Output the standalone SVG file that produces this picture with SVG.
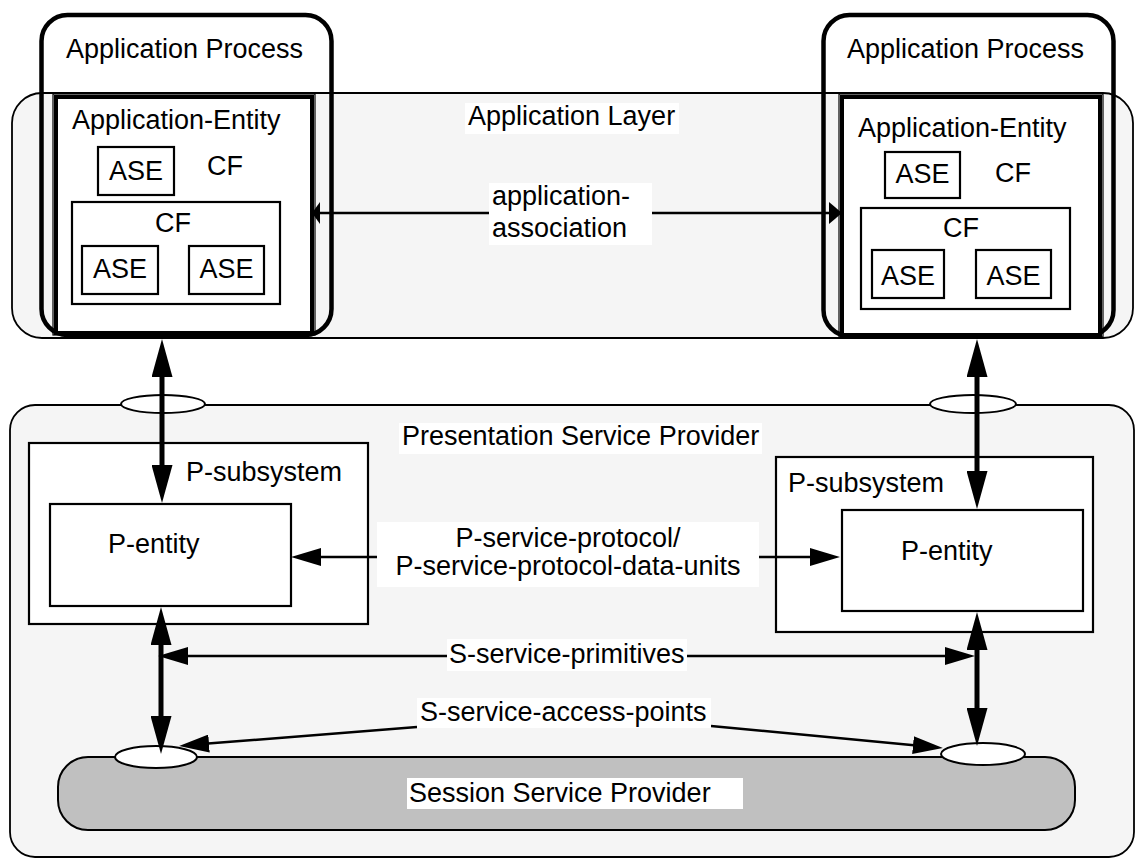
<svg xmlns="http://www.w3.org/2000/svg" width="1136" height="859" viewBox="0 0 1136 859">
<style>
text{font-family:"Liberation Sans",Arial,sans-serif;font-size:27px;fill:#000}
.layer{fill:#f5f5f5;stroke:#000;stroke-width:1.8}
.ap{fill:none;stroke:#000;stroke-width:4.5}
.apbg{fill:#fff;stroke:none}
.ae{fill:#fff;stroke:#000;stroke-width:4}
.aethin{fill:none;stroke:#000;stroke-width:1.2}
.box{fill:#fff;stroke:#000;stroke-width:2.2}
.sap{fill:#fff;stroke:#000;stroke-width:2}
.lbl{fill:#fff;stroke:none}
.thick{stroke:#000;stroke-width:5;fill:none}
.med{stroke:#000;stroke-width:2.5;fill:none}
.mid{text-anchor:middle}
</style>
<defs>
<marker id="hBig" markerUnits="userSpaceOnUse" viewBox="0 0 38 21" markerWidth="38" markerHeight="21" refX="1" refY="10.5" orient="auto-start-reverse"><path d="M0,0 L38,10.5 L0,21 Z" fill="#000"/></marker>
<marker id="hMed" markerUnits="userSpaceOnUse" viewBox="0 0 30 18" markerWidth="30" markerHeight="18" refX="1" refY="9" orient="auto-start-reverse"><path d="M0,0 L30,9 L0,18 Z" fill="#000"/></marker>
<marker id="hSmall" markerUnits="userSpaceOnUse" viewBox="0 0 13 22" markerWidth="13" markerHeight="22" refX="1" refY="11" orient="auto-start-reverse"><path d="M0,0 L13,11 L0,22 Z" fill="#000"/></marker>
</defs>

<!-- Application process backgrounds -->
<g id="ap-left-bg"><rect class="apbg" x="41.5" y="15" width="290" height="320" rx="26"/></g>
<g id="ap-right-bg"><rect class="apbg" x="823.5" y="15" width="290" height="321" rx="26"/></g>

<!-- Application Layer -->
<g id="application-layer">
<rect class="layer" x="12" y="93" width="1121" height="245" rx="30"/>
<rect class="lbl" x="465" y="103" width="214" height="31"/>
<text x="468" y="125">Application Layer</text>
</g>

<!-- Application processes -->
<g id="ap-left">
<rect class="ap" x="41.5" y="15" width="290" height="320" rx="26"/>
<text x="66" y="58">Application Process</text>
</g>
<g id="ap-right">
<rect class="ap" x="823.5" y="15" width="290" height="321" rx="26"/>
<text x="847" y="58">Application Process</text>
</g>

<!-- Application entities -->
<g id="ae-left">
<rect class="aethin" x="53" y="94" width="262" height="241"/>
<rect class="ae" x="56" y="97" width="256" height="236"/>
<text x="72" y="129">Application-Entity</text>
<rect class="box" x="98" y="147" width="76" height="48"/>
<text class="mid" x="136" y="180">ASE</text>
<text x="207" y="175">CF</text>
<rect class="box" x="72" y="202" width="208" height="102"/>
<text class="mid" x="173" y="232">CF</text>
<rect class="box" x="82" y="246" width="76" height="48"/>
<text class="mid" x="120" y="278">ASE</text>
<rect class="box" x="189" y="246" width="75" height="48"/>
<text class="mid" x="226.5" y="278">ASE</text>
</g>
<g id="ae-right">
<rect class="aethin" x="839" y="94" width="264" height="243"/>
<rect class="ae" x="842" y="97" width="258" height="238"/>
<text x="858" y="137">Application-Entity</text>
<rect class="box" x="885" y="152" width="75" height="46"/>
<text class="mid" x="922.5" y="183">ASE</text>
<text x="995" y="182">CF</text>
<rect class="box" x="861" y="208" width="209" height="101"/>
<text class="mid" x="961" y="237">CF</text>
<rect class="box" x="872" y="250" width="72" height="48"/>
<text class="mid" x="908" y="285">ASE</text>
<rect class="box" x="976" y="250" width="75" height="48"/>
<text class="mid" x="1013.5" y="285">ASE</text>
</g>

<!-- Presentation Service Provider -->
<g id="presentation-layer">
<rect class="layer" x="10" y="405" width="1124" height="452" rx="25" stroke-width="2"/>
<rect class="lbl" x="399" y="423" width="363" height="31"/>
<text x="402" y="445">Presentation Service Provider</text>
<ellipse class="sap" cx="163" cy="404" rx="42" ry="9"/>
<ellipse class="sap" cx="973" cy="404" rx="43" ry="9"/>
</g>

<!-- Session Service Provider -->
<g id="session-provider">
<rect x="58" y="757" width="1017" height="73" rx="30" fill="#c0c0c0" stroke="#000" stroke-width="2"/>
<rect class="lbl" x="407" y="778" width="336" height="31"/>
<text x="409" y="802">Session Service Provider</text>
<ellipse class="sap" cx="156" cy="757" rx="41" ry="11"/>
<ellipse class="sap" cx="983" cy="754" rx="42" ry="11"/>
</g>

<!-- P-subsystems -->
<g id="psub-left">
<rect class="box" x="29" y="443" width="339" height="181"/>
<text x="186" y="481">P-subsystem</text>
</g>
<g id="pentity-left">
<rect class="box" x="50" y="504" width="241" height="102" stroke-width="2.5"/>
<text x="108" y="553">P-entity</text>
</g>
<g id="psub-right">
<rect class="box" x="776" y="457" width="317" height="175"/>
<text x="788" y="492">P-subsystem</text>
</g>
<g id="pentity-right">
<rect class="box" x="842" y="510" width="241" height="101" stroke-width="2.5"/>
<text x="901" y="560">P-entity</text>
</g>

<!-- Connectors -->
<g id="connectors">
<!-- application-association -->
<line class="med" x1="318" y1="213" x2="830" y2="213" stroke-width="2.2" marker-end="url(#hSmall)"/>
<polygon points="312,213 320,202 320,224" fill="#000"/>
<rect class="lbl" x="489" y="183" width="163" height="62"/>
<text x="492" y="205">application-</text>
<text x="492" y="237">association</text>

<!-- AE to P-entity -->
<line class="thick" x1="162" y1="376" x2="162" y2="466" marker-start="url(#hBig)" marker-end="url(#hBig)"/>
<line class="thick" x1="977" y1="376" x2="977" y2="472" marker-start="url(#hBig)" marker-end="url(#hBig)"/>

<!-- P-service-protocol -->
<line class="med" x1="377" y1="557" x2="320" y2="557" marker-end="url(#hMed)"/>
<line class="med" x1="759" y1="557" x2="811" y2="557" marker-end="url(#hMed)"/>
<rect class="lbl" x="377" y="522" width="382" height="65"/>
<text class="mid" x="568" y="547">P-service-protocol/</text>
<text class="mid" x="568" y="575">P-service-protocol-data-units</text>

<!-- P-entity to session SAP -->
<line class="thick" x1="161" y1="644" x2="161" y2="717" marker-start="url(#hBig)" marker-end="url(#hBig)"/>
<line class="thick" x1="977" y1="649" x2="977" y2="709" marker-start="url(#hBig)" marker-end="url(#hBig)"/>

<!-- S-service-primitives -->
<line class="med" x1="187" y1="656" x2="946" y2="656" marker-start="url(#hMed)" marker-end="url(#hMed)"/>
<rect class="lbl" x="447" y="639" width="240" height="32"/>
<text x="449" y="663">S-service-primitives</text>

<!-- S-service-access-points -->
<line class="med" x1="417" y1="727" x2="208" y2="743.6" marker-end="url(#hMed)"/>
<line class="med" x1="711" y1="726" x2="914" y2="745.2" marker-end="url(#hMed)"/>
<rect class="lbl" x="417" y="698" width="294" height="30"/>
<text x="420" y="721">S-service-access-points</text>
</g>
</svg>
